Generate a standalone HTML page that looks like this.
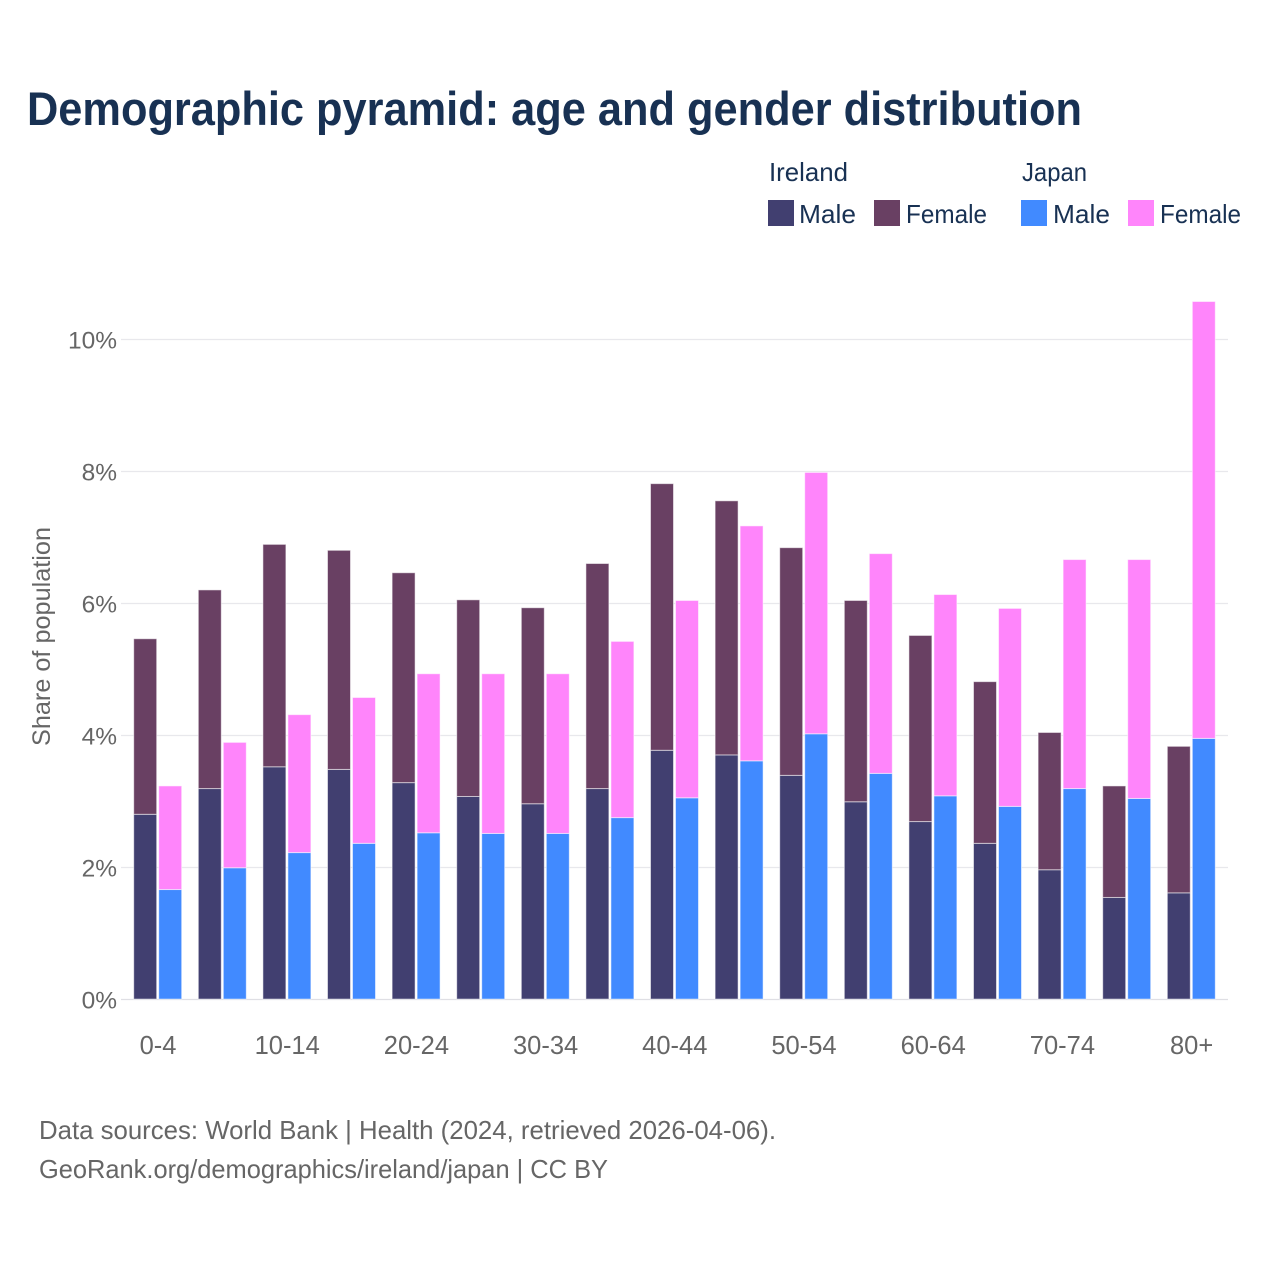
<!DOCTYPE html>
<html lang="en">
<head>
<meta charset="utf-8">
<title>Demographic pyramid: age and gender distribution</title>
<style>
html,body{margin:0;padding:0;background:#fff;width:1280px;height:1280px;overflow:hidden}
svg{display:block;font-family:"Liberation Sans",sans-serif}
</style>
</head>
<body>
<svg id="chart" width="1280" height="1280" viewBox="0 0 1280 1280" xmlns="http://www.w3.org/2000/svg">
  <rect width="1280" height="1280" fill="#ffffff"/>
  <text x="27" y="125" font-size="47" font-weight="700" fill="#183153" textLength="1055" lengthAdjust="spacingAndGlyphs">Demographic pyramid: age and gender distribution</text>

  <g font-size="26" fill="#183153">
    <text x="769" y="181" textLength="79" lengthAdjust="spacingAndGlyphs">Ireland</text>
    <text x="1022" y="181" textLength="65" lengthAdjust="spacingAndGlyphs">Japan</text>
    <rect x="768" y="200" width="26" height="26" fill="#413f70"/>
    <text x="799" y="223" textLength="57" lengthAdjust="spacingAndGlyphs">Male</text>
    <rect x="874" y="200" width="26" height="26" fill="#694063"/>
    <text x="906" y="223" textLength="81" lengthAdjust="spacingAndGlyphs">Female</text>
    <rect x="1021" y="200" width="26" height="26" fill="#418aff"/>
    <text x="1053" y="223" textLength="57" lengthAdjust="spacingAndGlyphs">Male</text>
    <rect x="1128" y="200" width="26" height="26" fill="#ff85fb"/>
    <text x="1160" y="223" textLength="81" lengthAdjust="spacingAndGlyphs">Female</text>
  </g>

  <g id="grid"></g>
  <g id="bars"></g>
  <g id="y-axis"></g>
  <g id="x-axis"></g>

  <text transform="translate(50,746) rotate(-90)" font-size="25" fill="#666666" textLength="219" lengthAdjust="spacingAndGlyphs">Share of population</text>

  <text x="39" y="1139" font-size="26" fill="#666666" textLength="737" lengthAdjust="spacingAndGlyphs">Data sources: World Bank | Health (2024, retrieved 2026-04-06).</text>
  <text x="39" y="1178" font-size="26" fill="#666666" textLength="569" lengthAdjust="spacingAndGlyphs">GeoRank.org/demographics/ireland/japan | CC BY</text>
</svg>
<script>
const categories = ["0-4","5-9","10-14","15-19","20-24","25-29","30-34","35-39","40-44","45-49","50-54","55-59","60-64","65-69","70-74","75-79","80+"];
const irelandMale = [2.80,3.19,3.52,3.48,3.28,3.07,2.96,3.19,3.77,3.70,3.39,2.99,2.69,2.36,1.96,1.54,1.61];
const irelandFemale = [2.66,3.01,3.37,3.32,3.18,2.98,2.97,3.41,4.04,3.85,3.45,3.05,2.82,2.45,2.08,1.69,2.22];
const japanMale = [1.66,1.99,2.22,2.36,2.52,2.51,2.51,2.75,3.05,3.61,4.02,3.42,3.08,2.92,3.19,3.04,3.95];
const japanFemale = [1.57,1.90,2.09,2.21,2.41,2.42,2.42,2.67,2.99,3.56,3.96,3.33,3.05,3.00,3.47,3.62,6.62];
const yTicks = [0,2,4,6,8,10];

const NS = "http://www.w3.org/2000/svg";
const yScale = function (v) { return 999.5 - v * 66; };
const xScale = function (i) { return 157.7 + i * 64.6; };

function make(parent, tag, attrs, text) {
  const el = document.createElementNS(NS, tag);
  Object.keys(attrs).forEach(function (k) { el.setAttribute(k, attrs[k]); });
  if (text !== undefined) el.textContent = text;
  parent.appendChild(el);
  return el;
}

const gridG = document.getElementById("grid");
const yAxisG = document.getElementById("y-axis");
yTicks.forEach(function (t) {
  const line = make(gridG, "line", {x1: 121, x2: 1228, y1: yScale(t), y2: yScale(t), stroke: t === 0 ? "#dfdfe4" : "#e8e8ec", "stroke-width": 1.3});
  
  
  const label = make(yAxisG, "text", {x: 117, y: yScale(t) + 9, "text-anchor": "end", "font-size": 24.5, fill: "#666666"}, t + "%");
  
  
});

const xAxisG = document.getElementById("x-axis");
categories.forEach(function (c, i) {
  if (i % 2 !== 0) return;
  const label = make(xAxisG, "text", {x: xScale(i) + 0.3, y: 1054, "text-anchor": "middle", "font-size": 25.5, fill: "#666666"}, c);
  
  
});

const barsG = document.getElementById("bars");
const BAR_W = 23;
const BAR_LIFT = 0.4;
function drawBar(x, base, value, fill, edge) {
  const top = yScale(base + value) - BAR_LIFT;
  const bottom = yScale(base) - BAR_LIFT;
  const bar = make(barsG, "rect", {x: x, y: top, width: BAR_W, height: bottom - top, fill: fill, stroke: edge, "stroke-width": 1});
  
  
}
categories.forEach(function (c, i) {
  const cx = xScale(i);
  drawBar(cx - 24, 0, irelandMale[i], "#413f70", "rgba(255,255,255,0.55)");
  drawBar(cx - 24, irelandMale[i], irelandFemale[i], "#694063", "rgba(255,255,255,0.55)");
  drawBar(cx + 1, 0, japanMale[i], "#418aff", "rgba(255,255,255,0.55)");
  drawBar(cx + 1, japanMale[i], japanFemale[i], "#ff85fb", "rgba(255,255,255,0.55)");
});
</script>
</body>
</html>
